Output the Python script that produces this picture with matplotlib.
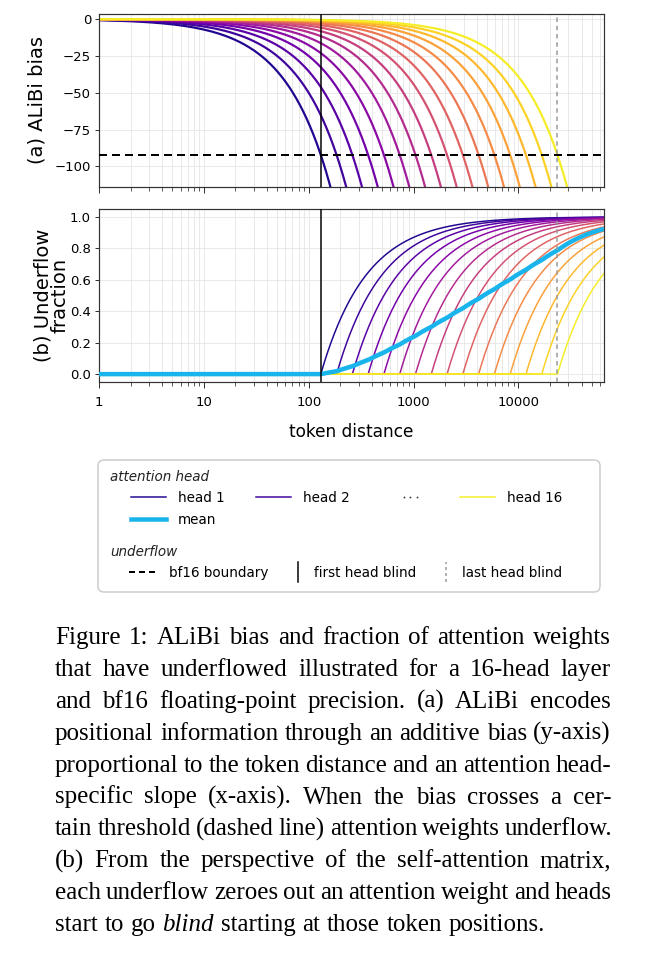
"""ALiBi bias and bf16 underflow fraction for a 16-head layer."""
import numpy as np
import matplotlib

matplotlib.use("Agg")
import matplotlib.pyplot as plt
from matplotlib.legend_handler import HandlerBase
from matplotlib.lines import Line2D
from matplotlib.patches import FancyBboxPatch
from matplotlib.ticker import FuncFormatter, NullFormatter

# ALiBi slopes of the 16 heads (2^-0.5 ... 2^-8)
head_slopes = [0.7071, 0.5, 0.3536, 0.25, 0.1768, 0.125, 0.08839, 0.0625,
               0.04419, 0.03125, 0.0221, 0.01563, 0.01105, 0.00781, 0.00552, 0.00391]
bf16_boundary = -92.2          # log of the smallest bf16 value
max_distance = 65536
x_ticks = [1, 10, 100, 1000, 10000]
bias_ticks = [0, -25, -50, -75, -100]
frac_ticks = [0.0, 0.2, 0.4, 0.6, 0.8, 1.0]
caption_lines = [
    "Figure 1: ALiBi bias and fraction of attention weights",
    "that have underflowed illustrated for a 16-head layer",
    "and bf16 floating-point precision.  (a) ALiBi encodes",
    "positional information through an additive bias (y-axis)",
    "proportional to the token distance and an attention head-",
    "specific slope (x-axis).  When the bias crosses a cer-",
    "tain threshold (dashed line) attention weights underflow.",
    "(b) From the perspective of the self-attention matrix,",
    "each underflow zeroes out an attention weight and heads",
    "start to go *blind* starting at those token positions.",
]

MEAN_COLOR = "#1ab4ec"
SPINE = "#333333"
GRID = "#e4e4e4"
W, H = 645, 958

slopes = np.array(head_slopes)
distance = np.arange(1, max_distance + 1, dtype=float)
bias = -np.outer(slopes, distance)
blind_at = -bf16_boundary / slopes
underflow = np.clip(1.0 - blind_at[:, None] / distance[None, :], 0.0, None)
underflow_mean = underflow.mean(axis=0)
colors = plt.cm.plasma((np.arange(len(slopes)) + 0.5) / len(slopes))

plt.rcParams["font.family"] = ["DejaVu Sans"]
fig = plt.figure(figsize=(W / 72, H / 72), dpi=72)


def px_axes(left, top, right, bottom):
    return fig.add_axes([left / W, 1 - bottom / H, (right - left) / W, (bottom - top) / H])


ax_a = px_axes(99, 14, 604, 187)
ax_b = px_axes(99, 209, 604, 382)

for ax in (ax_a, ax_b):
    ax.set_xscale("log")
    ax.set_xlim(1, max_distance)
    ax.set_xticks(x_ticks)
    ax.xaxis.set_major_formatter(FuncFormatter(lambda v, _: f"{v:g}"))
    ax.xaxis.set_minor_formatter(NullFormatter())
    ax.grid(True, which="both", axis="x", color=GRID, lw=0.8, zorder=0)
    ax.grid(True, which="major", axis="y", color=GRID, lw=0.8, zorder=0)
    for sp in ax.spines.values():
        sp.set_color(SPINE)
        sp.set_linewidth(1.2)
    ax.tick_params(which="major", axis="x", length=6, width=1.0, color=SPINE,
                   labelsize=13.3, pad=8)
    ax.tick_params(which="minor", axis="x", length=3.5, width=0.8, color=SPINE)
    ax.tick_params(axis="y", length=4, width=1.0, color=SPINE, labelsize=13.3, pad=4)
    ax.axvline(blind_at[0], color="black", lw=1.5, zorder=4)
    ax.axvline(blind_at[-1], color="#999999", lw=1.5, ls=(0, (3, 2.5)), zorder=4)

# (a) ALiBi bias
for i in range(len(slopes)):
    ax_a.plot(distance, bias[i], color=colors[i], lw=2.2, zorder=2)
ax_a.axhline(bf16_boundary, color="black", lw=2, ls=(0, (4, 2.5)), zorder=5)
ax_a.set_ylim(-114, 3.5)
ax_a.set_yticks(bias_ticks)
ax_a.tick_params(axis="x", labelbottom=False)
ax_a.set_ylabel("(a) ALiBi bias", fontsize=19.5, labelpad=8)

# (b) underflow fraction
for i in range(len(slopes)):
    ax_b.plot(distance, underflow[i], color=colors[i], lw=1.5, zorder=2)
ax_b.plot(distance, underflow_mean, color=MEAN_COLOR, lw=4.5, zorder=3,
          solid_capstyle="butt")
ax_b.set_ylim(-0.05, 1.05)
ax_b.set_yticks(frac_ticks)
ax_b.yaxis.set_major_formatter(FuncFormatter(lambda v, _: f"{v:.1f}"))
ax_b.set_ylabel("(b) Underflow\nfraction", fontsize=19.5, labelpad=1, linespacing=0.85)
ax_b.set_xlabel("token distance", fontsize=17, labelpad=14)


# legend
class HandlerVLine(HandlerBase):
    def create_artists(self, legend, orig_handle, xdescent, ydescent, width,
                       height, fontsize, trans):
        x = width - 4 - xdescent
        line = Line2D([x, x], [height / 2 - 10, height / 2 + 10])
        self.update_prop(line, orig_handle, legend)
        line.set_transform(trans)
        return [line]


class HandlerDots(HandlerBase):
    def create_artists(self, legend, orig_handle, xdescent, ydescent, width,
                       height, fontsize, trans):
        xs = np.array([width - 13, width - 6.5, width]) - xdescent
        dots = Line2D(xs, [height / 2] * 3, ls="none", marker="o", ms=1.8,
                      color="#333333", mew=0)
        dots.set_transform(trans)
        return [dots]


lax = px_axes(98, 460, 600, 592)
lax.axis("off")
lax.add_patch(FancyBboxPatch((0, 0), 1, 1, boxstyle="round,pad=0,rounding_size=0.012",
                             mutation_aspect=3.8, transform=lax.transAxes,
                             fc="white", ec="#cccccc", lw=1.5, clip_on=False))
lax.text(12 / 502, 1 - 17 / 132, "attention head", style="italic", fontsize=13.5,
         va="center", ha="left", transform=lax.transAxes, color="#222222")
lax.text(12 / 502, 1 - 92 / 132, "underflow", style="italic", fontsize=13.5,
         va="center", ha="left", transform=lax.transAxes, color="#222222")

h1 = Line2D([], [], color=colors[0], lw=1.5)
h2 = Line2D([], [], color=colors[1], lw=1.5)
h16 = Line2D([], [], color=colors[-1], lw=1.5)
hmean = Line2D([], [], color=MEAN_COLOR, lw=4.5)
blank = Line2D([], [], color="none")
dots = Line2D([], [])
leg1 = lax.legend([h1, hmean, h2, blank, dots, blank, h16, blank],
                  ["head 1", "mean", "head 2", "", "", "", "head 16", ""],
                  ncol=4, loc="upper left", bbox_to_anchor=(33 / 502, 1 - 31 / 132),
                  frameon=False, borderpad=0, borderaxespad=0, fontsize=13.5,
                  handlelength=2.6, handletextpad=0.85, columnspacing=2.37,
                  labelspacing=0.6, handler_map={dots: HandlerDots()})
lax.add_artist(leg1)

hb = Line2D([], [], color="black", lw=2, ls=(0, (3, 2)))
hf = Line2D([], [], color="black", lw=1.5)
hl = Line2D([], [], color="#999999", lw=1.5, ls=(0, (2, 2)))
vh = HandlerVLine()
lax.legend([hb, hf, hl], ["bf16 boundary", "first head blind", "last head blind"],
           ncol=3, loc="upper left", bbox_to_anchor=(31 / 502, 1 - 106 / 132),
           frameon=False, borderpad=0, borderaxespad=0, fontsize=13.5,
           handlelength=2.07, handletextpad=0.89, columnspacing=0.44,
           handler_map={hf: vh, hl: vh})

# caption, justified
CAP_FONT = dict(family="Liberation Serif", size=25.0, color="black")
cap_left, cap_right = 55, 611
min_gap = 0.2 * CAP_FONT["size"]
renderer = fig.canvas.get_renderer()
for i, line in enumerate(caption_lines):
    y = 1 - (644 + 31.9 * i) / H
    words = line.split()
    texts = []
    for w in words:
        style = "normal"
        if w.startswith("*") and w.endswith("*"):
            w, style = w.strip("*"), "italic"
        texts.append(fig.text(0, y, w, style=style, va="baseline", ha="left", **CAP_FONT))
    widths = [t.get_window_extent(renderer).width for t in texts]
    if i < len(caption_lines) - 1:
        gap = max((cap_right - cap_left - sum(widths)) / (len(words) - 1), min_gap)
    else:
        gap = 0.27 * CAP_FONT["size"]
    x = cap_left
    for t, wd in zip(texts, widths):
        t.set_x(x / W)
        x += wd + gap

fig.savefig("out.png", dpi=72)
